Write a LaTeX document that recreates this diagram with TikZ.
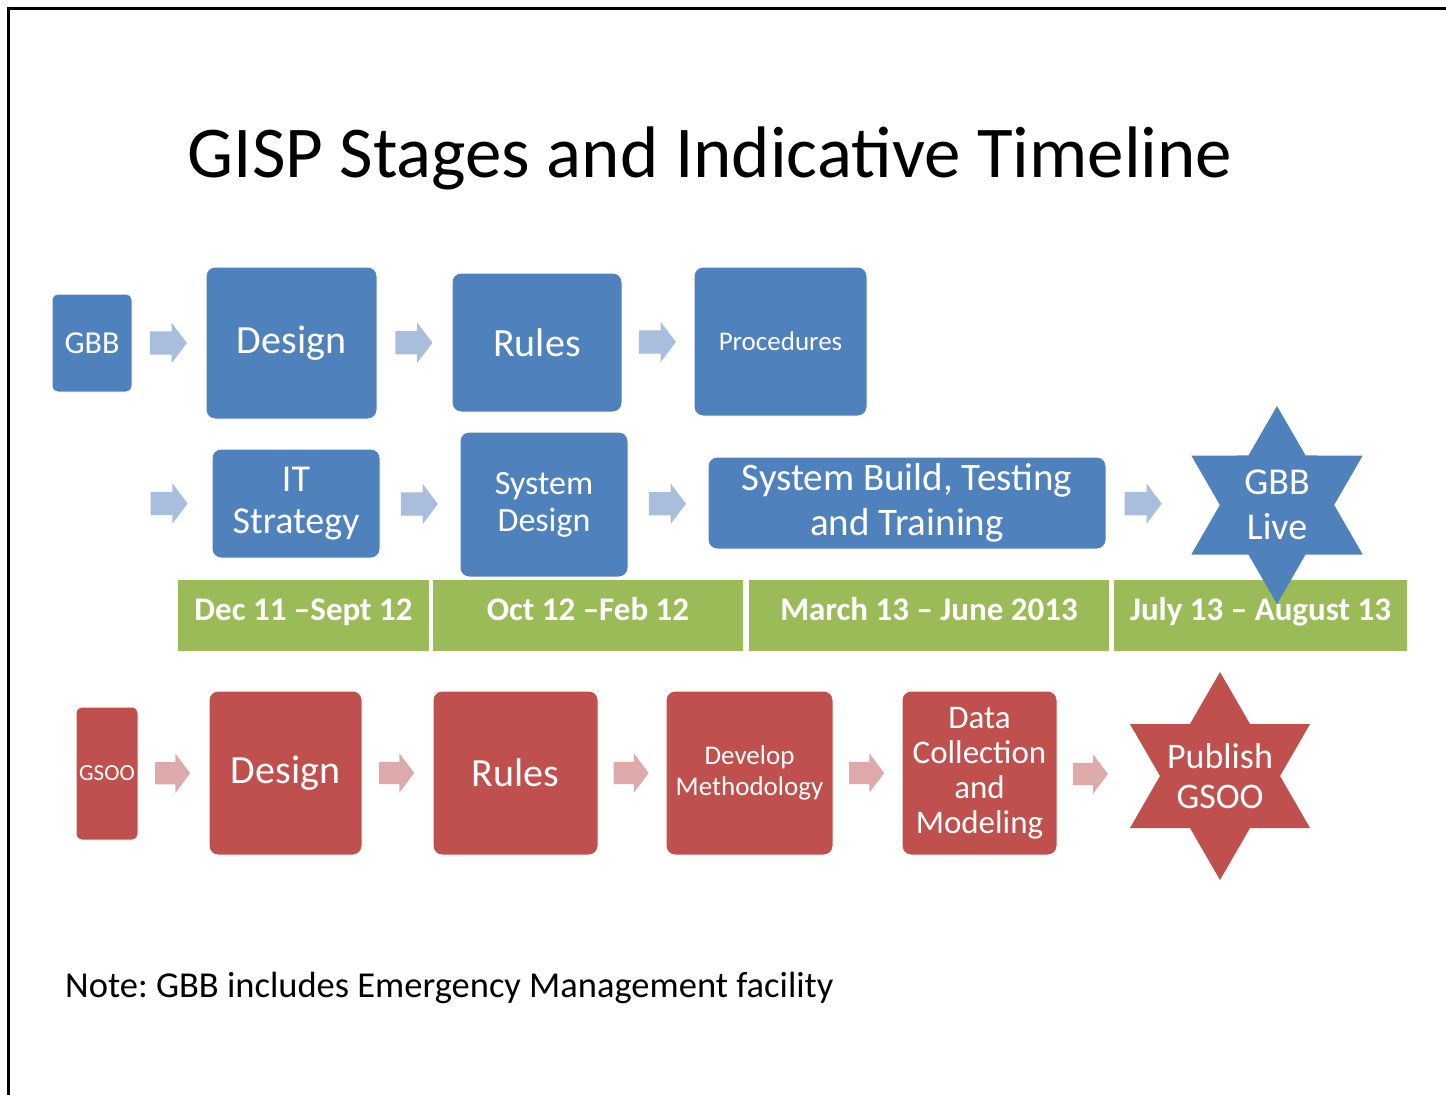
\documentclass[tikz,border=0pt]{standalone}
\usepackage{fontspec}
\setmainfont{Carlito}
\usepackage{xcolor}
\usetikzlibrary{shapes.geometric,shapes.arrows}
\definecolor{gispblue}{HTML}{4F81BD}
\definecolor{gispred}{HTML}{C0504D}
\definecolor{gispgreen}{HTML}{9BBB59}
\definecolor{arrblue}{HTML}{A9BDDC}
\definecolor{arrred}{HTML}{DDAAA9}
\frenchspacing

\begin{document}
\begin{tikzpicture}[x=1pt,y=-1pt,
  box/.style={rounded corners=9pt, draw=white, line width=1pt, text=white, inner sep=0pt, align=center},
  bluebox/.style={box, fill=gispblue},
  redbox/.style={box, fill=gispred},
  datebar/.style={fill=gispgreen, draw=white, line width=1.5pt, text=white, inner sep=0pt,
    font=\bfseries\fontsize{33}{36}\selectfont, minimum height=73pt, text height=24pt, text depth=15pt},
  hexstar/.style={star, star points=6, star point ratio=1.732, inner sep=0pt},
  startext/.style={text=white, align=center},
  barr/.style={single arrow, fill=arrblue, minimum height=37pt, minimum width=40pt, inner xsep=0pt, inner ysep=11.5pt,
    single arrow head extend=8.5pt, single arrow tip angle=106, xshift=-5pt},
  rarr/.style={barr, fill=arrred, minimum height=35pt, minimum width=38pt, inner ysep=11pt},
  ]
\useasboundingbox (0,0) rectangle (1446,1095);
\draw [line width=3pt] (8,1095) -- (8,8) -- (1446,8);

\node [anchor=base, font=\fontsize{73}{80}\selectfont] (title) at (710,177) {GISP Stages and Indicative Timeline};

% GBB row
\node [bluebox, rounded corners=6pt, minimum width=80pt, minimum height=98pt, font=\fontsize{32}{36}\selectfont] (gbb) at (92,343) {GBB};
\node [bluebox, minimum width=171pt, minimum height=152pt, font=\fontsize{40}{44}\selectfont] (design) at (291.5,343) {Design};
\node [bluebox, minimum width=170pt, minimum height=139pt, font=\fontsize{40}{44}\selectfont] (rules) at (537,342.5) {Rules};
\node [bluebox, minimum width=173pt, minimum height=149pt, font=\fontsize{27}{30}\selectfont] (proc) at (780.5,341.5) {Procedures};
\path (gbb.east) -- node[barr]{} (design.west);
\path (design.east) -- node[barr]{} (rules.west);
\path (rules.east) -- node[barr]{} (proc.west);

% IT row
\coordinate (itin) at (128,503.5);
\node [bluebox, minimum width=168pt, minimum height=109pt, font=\fontsize{38}{42}\selectfont] (itstrat) at (296,503.5) {IT\\Strategy};
\node [bluebox, minimum width=168pt, minimum height=145pt, font=\fontsize{34}{37}\selectfont] (sysdes) at (544,504.5) {System\\Design};
\node [bluebox, minimum width=398pt, minimum height=92pt, font=\fontsize{39}{45}\selectfont] (build) at (907,503) {System Build, Testing\\and Training};
\path (itin) -- node[barr]{} (itstrat.west);
\path (itstrat.east) -- node[barr]{} (sysdes.west);
\path (sysdes.east) -- node[barr]{} (build.west);

% timeline
\node [datebar, minimum width=253pt] (t1) at (303.5,615.5) {Dec 11 –Sept 12};
\node [datebar, minimum width=312pt] (t2) at (588,615.5) {Oct 12 –Feb 12};
\node [datebar, minimum width=362pt] (t3) at (929,615.5) {March 13 – June 2013};
\node [datebar, minimum width=295pt] (t4) at (1260.5,615.5) {July 13 – August 13};

\node [hexstar, fill=gispblue, minimum size=198pt,
  label={[startext, font=\fontsize{38}{45}\selectfont]center:GBB\\Live}] (live) at (1277,505) {};
\path (build.east) -- node[barr, pos=.33]{} (live.west);

% GSOO row
\node [redbox, rounded corners=6pt, minimum width=62pt, minimum height=133pt, font=\fontsize{23}{25}\selectfont] (gsoo) at (107,773.5) {GSOO};
\node [redbox, minimum width=153pt, minimum height=164pt, font=\fontsize{40}{44}\selectfont] (rdesign) at (285.5,773) {Design};
\node [redbox, minimum width=165pt, minimum height=164pt, font=\fontsize{40}{44}\selectfont] (rrules) at (515.5,773) {Rules};
\node [redbox, minimum width=167pt, minimum height=164pt, font=\fontsize{27}{31}\selectfont] (method) at (749.5,773) {Develop\\Methodology};
\node [redbox, minimum width=155pt, minimum height=164pt, font=\fontsize{33}{35}\selectfont] (datacol) at (979.5,773) {Data\\Collection\\and\\Modeling};
\node [hexstar, fill=gispred, minimum size=208pt,
  label={[startext, font=\fontsize{36}{40}\selectfont]center:Publish\\GSOO}] (publish) at (1220,776) {};
\path (gsoo.east) -- node[rarr]{} (rdesign.west);
\path (rdesign.east) -- node[rarr]{} (rrules.west);
\path (rrules.east) -- node[rarr]{} (method.west);
\path (method.east) -- node[rarr]{} (datacol.west);
\path (datacol.east) -- node[rarr, pos=.33]{} (publish.west);

\node [anchor=base west, inner sep=0pt, font=\fontsize{36.5}{40}\selectfont] (note) at (65,997) {Note: GBB includes Emergency Management facility};
\end{tikzpicture}
\end{document}
